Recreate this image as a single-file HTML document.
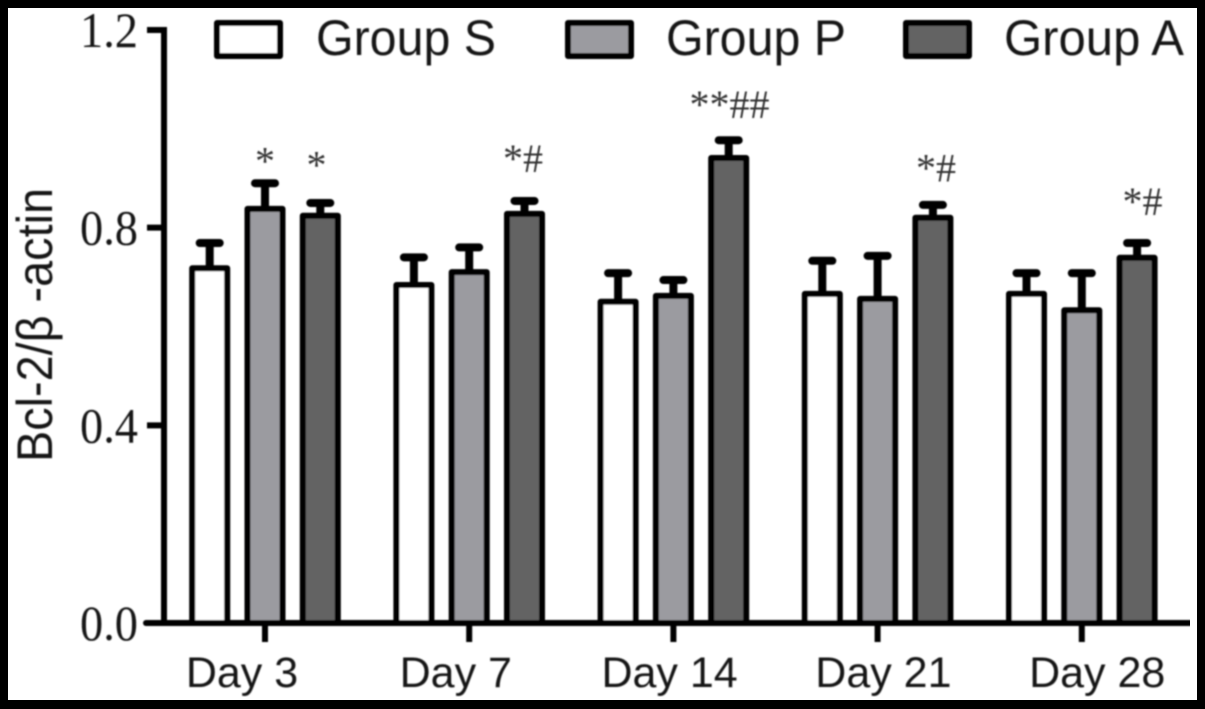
<!DOCTYPE html>
<html lang="en">
<head>
<meta charset="utf-8">
<title>Bcl-2/β-actin bar chart</title>
<style>
html,body{margin:0;padding:0;background:#000;width:1205px;height:709px;overflow:hidden}
svg{display:block;position:absolute;left:0;top:0}
.serif{font-family:"Liberation Serif",serif}
.sans{font-family:"Liberation Sans",sans-serif}
</style>
</head>
<body>
<svg id="chart" xmlns="http://www.w3.org/2000/svg" width="1205" height="709" viewBox="0 0 1205 709">
  <defs><filter id="soft" x="0" y="0" width="100%" height="100%"><feGaussianBlur stdDeviation="0.8"/></filter></defs>
  <rect x="8" y="8" width="1189" height="692" fill="#fff"/>
  <g id="root" filter="url(#soft)"></g>
</svg>
<script>
const categories = ['Day 3', 'Day 7', 'Day 14', 'Day 21', 'Day 28'];
const seriesNames = ['Group S', 'Group P', 'Group A'];
const groupS = [0.718, 0.684, 0.650, 0.666, 0.666];
const groupP = [0.838, 0.710, 0.662, 0.656, 0.633];
const groupA = [0.824, 0.828, 0.941, 0.820, 0.739];
const errorS = [0.051, 0.056, 0.058, 0.067, 0.042];
const errorP = [0.052, 0.050, 0.032, 0.087, 0.075];
const errorA = [0.026, 0.026, 0.036, 0.026, 0.030];
const annotationsS = ['', '', '', '', ''];
const annotationsP = ['*', '', '', '', ''];
const annotationsA = ['*', '*#', '**##', '*#', '*#'];
const annotationGapS = [0, 0, 0, 0, 0];
const annotationGapP = [0.018, 0, 0, 0, 0];
const annotationGapA = [0.049, 0.059, 0.045, 0.047, 0.057];
const yTicks = [0, 0.4, 0.8, 1.2];
const yTickLabels = ['0.0', '0.4', '0.8', '1.2'];

const NS = 'http://www.w3.org/2000/svg';
const root = document.getElementById('root');
const fills = ['#ffffff', '#9b9ba0', '#636363'];
const strokeColor = '#050505';
const textColor = '#141414';
const seriesValues = [groupS, groupP, groupA];
const seriesErrors = [errorS, errorP, errorA];
const seriesAnnotations = [annotationsS, annotationsP, annotationsA];
const seriesGaps = [annotationGapS, annotationGapP, annotationGapA];

function yScale(v) { return 623 - (v / 1.2) * 593; }
function xCenter(i) { return 265 + i * 204.2; }
function xBar(i, s) { return xCenter(i) + (s - 1) * 55.3; }
function xLabel(i) { return 242 + i * 213.8; }
function xAnnotation(i, s) { return s === 2 ? 316.5 + i * 206.5 : xBar(i, s); }

function make(tag, attrs, text) {
  const el = document.createElementNS(NS, tag);
  for (const k in attrs) el.setAttribute(k, attrs[k]);
  if (text !== undefined) el.textContent = text;
  root.appendChild(el);
  return el;
}
function line(x1, y1, x2, y2, w, cap) {
  return make('line', { x1, y1, x2, y2, stroke: strokeColor, 'stroke-width': w, 'stroke-linecap': cap || 'butt' });
}

seriesValues.forEach(function (values, s) {
  values.forEach(function (v, i) {
    const cx = xBar(i, s);
    const top = yScale(v);
    const errTop = yScale(v + seriesErrors[s][i]);
    const stem = line(cx, top, cx, errTop, 8);
    
    
    const cap = line(cx - 10, errTop, cx + 10, errTop, 8, 'round');
    
    
    const bar = make('rect', { x: cx - 17.5, y: top, width: 35, height: 623 - top, fill: fills[s], stroke: strokeColor, 'stroke-width': 6, 'stroke-linejoin': 'round' });
    
    
    const label = seriesAnnotations[s][i];
    if (label) {
      const t = make('text', { x: xAnnotation(i, s), y: yScale(v + seriesErrors[s][i] + seriesGaps[s][i]), 'text-anchor': 'middle', 'font-size': 40, class: 'serif', fill: '#333' }, label);
      
      
    }
  });
});

const yAxis = line(164, 27, 164, 626, 6);


const xAxis = line(146, 623, 1190, 623, 6, 'round');



yTicks.forEach(function (v, i) {
  const y = yScale(v);
  const tick = line(147, y, 164, y, 6);
  
  
  const t = make('text', { x: 80, y: y + 17, 'font-size': 50, class: 'serif', fill: textColor, textLength: 58, lengthAdjust: 'spacingAndGlyphs' }, yTickLabels[i]);
  
  
});

categories.forEach(function (c, i) {
  const cx = xCenter(i);
  const tick = line(cx, 623, cx, 642, 6);
  
  
  const t = make('text', { x: xLabel(i), y: 687, 'font-size': 43, class: 'sans', 'text-anchor': 'middle', fill: textColor }, c);
  
  
});

const legendBoxX = [215, 566, 904];
const legendTextX = [316, 666, 1004];
seriesNames.forEach(function (name, s) {
  const box = make('rect', { x: legendBoxX[s] + 2, y: 23, width: 63, height: 33, fill: fills[s], stroke: strokeColor, 'stroke-width': 6, 'stroke-linejoin': 'round' });
  
  
  const t = make('text', { x: legendTextX[s], y: 55, 'font-size': 50, class: 'sans', fill: textColor, textLength: 180, lengthAdjust: 'spacingAndGlyphs' }, name);
  
  
});

const title = make('text', { transform: 'translate(52,462) rotate(-90)', 'font-size': 50, class: 'sans', fill: textColor, textLength: 274, lengthAdjust: 'spacingAndGlyphs' }, 'Bcl-2/β -actin');


</script>
</body>
</html>
